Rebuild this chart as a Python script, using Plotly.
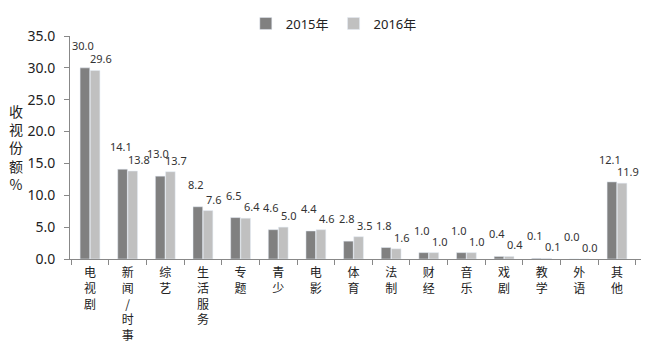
import plotly.graph_objects as go

categories = ["电<br>视<br>剧", "新<br>闻<br>/<br>时<br>事", "综<br>艺", "生<br>活<br>服<br>务", "专<br>题",
              "青<br>少", "电<br>影", "体<br>育", "法<br>制", "财<br>经", "音<br>乐", "戏<br>剧",
              "教<br>学", "外<br>语", "其<br>他"]
values_2015 = [30.0, 14.1, 13.0, 8.2, 6.5, 4.6, 4.4, 2.8, 1.8, 1.0, 1.0, 0.4, 0.1, 0.0, 12.1]
values_2016 = [29.6, 13.8, 13.7, 7.6, 6.4, 5.0, 4.6, 3.5, 1.6, 1.0, 1.0, 0.4, 0.1, 0.0, 11.9]
series_names = ["2015年", "2016年"]
y_ticks = [0, 5, 10, 15, 20, 25, 30, 35]

num_font = "Noto Sans, Liberation Sans, sans-serif"
cjk_font = "Noto Sans CJK SC, sans-serif"

fig = go.Figure()
series = [(series_names[0], values_2015, "#808080", -7, 13),
          (series_names[1], values_2016, "#c0c0c0", 11, 2)]
for name, vals, color, dx, dy in series:
    fig.add_trace(go.Bar(x=categories, y=vals, name=name, marker_color=color))
    for cat, v in zip(categories, vals):
        fig.add_annotation(
            x=cat, y=v, text=f"{v:.1f}", showarrow=False,
            xanchor="center", yanchor="bottom", xshift=dx, yshift=dy,
            font=dict(size=11, color="#333333", family=num_font),
        )

fig.update_layout(
    width=650, height=342,
    margin=dict(l=70, r=9, t=25, b=83),
    paper_bgcolor="white", plot_bgcolor="white",
    barmode="group", bargap=0.46, bargroupgap=0.05,
    showlegend=True,
    legend=dict(orientation="h", x=0.462, xanchor="center", y=1.056, yanchor="middle",
                font=dict(size=13, family=num_font + ", " + cjk_font, color="#222222"),
                itemwidth=30, traceorder="normal"),
    font=dict(family=cjk_font, color="#222222"),
)
fig.update_yaxes(
    range=[0, 35], tickvals=y_ticks, tickformat=".1f", automargin=False,
    showgrid=False, zeroline=False, showline=True, linecolor="#888888", linewidth=1,
    ticks="outside", ticklen=5, tickcolor="#888888", ticklabelstandoff=6,
    tickfont=dict(size=14, family=num_font, color="#222222"),
)
fig.update_xaxes(
    showgrid=False, showline=True, linecolor="#888888", linewidth=1, automargin=False,
    ticks="outside", tickson="boundaries", ticklen=5, tickcolor="#888888", ticklabelstandoff=3,
    tickfont=dict(size=12, family=cjk_font, color="#222222"), tickangle=0,
)
fig.add_annotation(
    text="收<br>视<br>份<br>额<br>%", xref="paper", yref="paper",
    x=-0.095, y=0.5, xanchor="center", yanchor="middle", showarrow=False,
    font=dict(size=14, family=cjk_font, color="#222222"),
)

fig.write_html("out.html")
